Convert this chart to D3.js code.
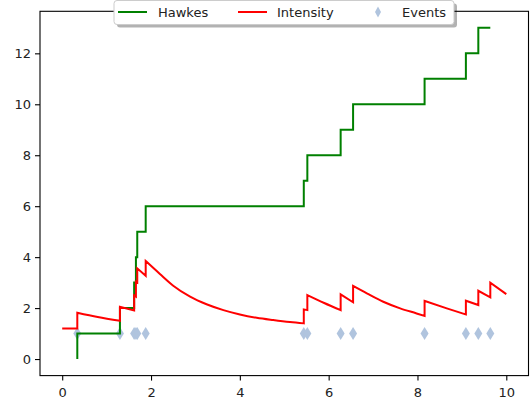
<!DOCTYPE html>
<html>
<head>
<meta charset="utf-8">
<script src="https://cdn.jsdelivr.net/npm/d3@7"></script>
<style>
  html, body { margin: 0; padding: 0; background: #fff; }
  svg { display: block; }
  text { font-family: "DejaVu Sans", sans-serif; font-size: 13px; fill: #222; }
</style>
</head>
<body>
<svg id="chart" width="532" height="403"></svg>
<script>
// Event times of the Hawkes process and the running count after each event
const eventTimes = [0.34, 1.30, 1.62, 1.66, 1.69, 1.88, 5.44, 5.52, 6.27, 6.55, 8.16, 9.09, 9.37, 9.64];
const eventCounts = [0, 1, 2, 3, 4, 5, 6, 7, 8, 9, 10, 11, 12, 13];
// Level at which the event markers sit
const eventLevel = [1, 1, 1, 1, 1, 1, 1, 1, 1, 1, 1, 1, 1, 1];

// Conditional intensity: repeated times mark the jump at an event
const intensityTimes = [0, 0.34, 0.34, 0.80, 1.30, 1.30, 1.62, 1.62, 1.66, 1.66, 1.69, 1.69, 1.88,
  1.88, 2.20, 2.50, 2.88, 3.25, 3.63, 4.00, 4.38, 4.75, 5.13, 5.44,
  5.44, 5.52, 5.52, 5.90, 6.27, 6.27, 6.55,
  6.55, 6.86, 7.23, 7.61, 7.98, 8.16, 8.16, 8.66, 9.09, 9.09, 9.37, 9.37, 9.64, 9.64, 10.0];
const intensityValues = [1.20, 1.20, 1.82, 1.65, 1.50, 2.05, 1.91, 2.50, 2.45, 3.03, 3.00, 3.56, 3.27,
  3.85, 3.34, 2.88, 2.45, 2.15, 1.92, 1.75, 1.62, 1.53, 1.45, 1.40,
  1.95, 1.92, 2.51, 2.20, 1.92, 2.54, 2.23,
  2.87, 2.58, 2.25, 1.99, 1.79, 1.69, 2.28, 1.99, 1.75, 2.29, 2.12, 2.68, 2.42, 3.00, 2.55];

const xTicks = [0, 2, 4, 6, 8, 10];
const yTicks = [0, 2, 4, 6, 8, 10, 12];
const legendLabels = ["Hawkes", "Intensity", "Events"];

const svg = d3.select("#chart");
const plot = { left: 40, right: 528.5, top: 11.3, bottom: 375.6 };

const x = d3.scaleLinear().domain([-0.5, 10.5]).range([plot.left, plot.right]);
const y = d3.scaleLinear().domain([-0.65, 13.65]).range([plot.bottom, plot.top]);

// Axes
const xAxis = d3.axisBottom(x).tickValues(xTicks).tickSize(5).tickPadding(4).tickFormat(d3.format("d"));
const yAxis = d3.axisLeft(y).tickValues(yTicks).tickSize(5).tickPadding(4).tickFormat(d3.format("d"));

const gx = svg.append("g").attr("transform", `translate(0,${plot.bottom})`).call(xAxis);
const gy = svg.append("g").attr("transform", `translate(${plot.left},0)`).call(yAxis);
[gx, gy].forEach(g => {
  g.select(".domain").remove();
  g.selectAll("line").attr("stroke", "#000").attr("stroke-width", 1.1);
  g.selectAll("text").attr("font-family", "DejaVu Sans, sans-serif").attr("font-size", 13).attr("fill", "#222");
});
gx.selectAll("text").attr("dy", "0.95em");

// Frame
svg.append("rect")
  .attr("x", plot.left).attr("y", plot.top)
  .attr("width", plot.right - plot.left).attr("height", plot.bottom - plot.top)
  .attr("fill", "none").attr("stroke", "#000").attr("stroke-width", 1.1);

// Event markers (thin diamonds), underneath the lines
const diamond = (w, h) => `M0,${-h / 2}L${w / 2},0L0,${h / 2}L${-w / 2},0Z`;
const markers = svg.append("g");

// Counting process (step plot, value changes just after each event)
const stepLine = d3.line()
  .x((d, i) => x(eventTimes[i]))
  .y(d => y(d))
  .curve(d3.curveStepBefore);
svg.append("path")
  .attr("d", stepLine(eventCounts))
  .attr("fill", "none").attr("stroke", "#008000").attr("stroke-width", 2);

// Intensity: smooth decay between events, vertical jump at each event
const pts = intensityTimes.map((t, i) => [t, intensityValues[i]]);
const segments = [];
let cur = [];
pts.forEach((p, i) => {
  if (i > 0 && p[0] === pts[i - 1][0]) { segments.push(cur); cur = []; }
  cur.push(p);
});
segments.push(cur);
const decayLine = d3.line().x(d => x(d[0])).y(d => y(d[1])).curve(d3.curveMonotoneX);
const dPath = segments.map((s, i) => {
  const part = decayLine(s);
  return i === 0 ? part : "L" + part.slice(1);
}).join("");
svg.append("path")
  .attr("d", dPath)
  .attr("fill", "none").attr("stroke", "#ff0000").attr("stroke-width", 2)
  .attr("stroke-linejoin", "miter");

markers.selectAll("path")
  .data(eventTimes)
  .join("path")
  .attr("transform", (d, i) => `translate(${x(d)},${y(eventLevel[i])})`)
  .attr("d", diamond(8, 13))
  .attr("fill", "#b0c4de");

// Legend
const lg = svg.append("g");
const lx = 114, ly = 0.5, lw = 340, lh = 24;
lg.append("rect")
  .attr("x", lx + 3).attr("y", ly + 3).attr("width", lw).attr("height", lh).attr("rx", 3)
  .attr("fill", "#000").attr("opacity", 0.3);
lg.append("rect")
  .attr("x", lx).attr("y", ly).attr("width", lw).attr("height", lh).attr("rx", 3)
  .attr("fill", "#fff").attr("stroke", "#cccccc").attr("stroke-width", 1);

const keyY = 12;
const items = [
  { sx: 118, tx: 158, kind: "line", color: "#008000" },
  { sx: 238, tx: 277, kind: "line", color: "#ff0000" },
  { sx: 363, tx: 402, kind: "marker", color: "#b0c4de" }
];
items.forEach((it, i) => {
  if (it.kind === "line") {
    lg.append("line")
      .attr("x1", it.sx).attr("x2", it.sx + 29).attr("y1", keyY).attr("y2", keyY)
      .attr("stroke", it.color).attr("stroke-width", 2);
  } else {
    lg.append("path")
      .attr("transform", `translate(${it.sx + 15},${keyY})`)
      .attr("d", diamond(6, 11)).attr("fill", it.color);
  }
  lg.append("text")
    .attr("x", it.tx).attr("y", keyY).attr("dy", "0.35em")
    .text(legendLabels[i]);
});
</script>
</body>
</html>
